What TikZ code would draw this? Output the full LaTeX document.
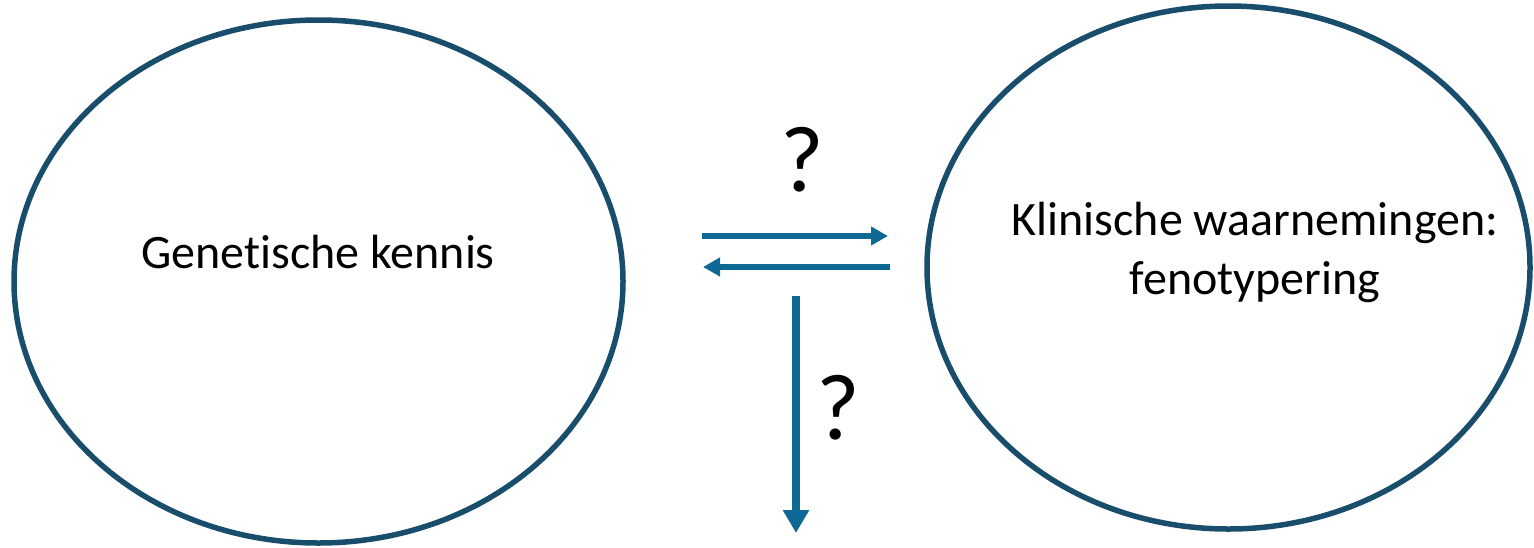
\documentclass[tikz,border=0pt]{standalone}
\usepackage{fontspec}
\setmainfont{Carlito}[Ligatures=NoCommon]
\usepackage{xcolor}
\usetikzlibrary{shapes.geometric,arrows.meta,positioning}

\definecolor{ringblue}{HTML}{184E6C}
\definecolor{arrowblue}{HTML}{0E6A94}

\begin{document}
\begin{tikzpicture}[
    x=1pt, y=-1pt,
    ring/.style={draw=ringblue, line width=5.5pt, ellipse, inner sep=0pt},
    label/.style={font=\fontsize{48}{59}\selectfont, align=center, inner sep=0pt},
    query/.style={font=\fontsize{94}{100}\selectfont, inner sep=0pt},
    flow/.style={draw=arrowblue, line width=6pt, -{Triangle[length=17pt, width=18pt]}},
    drop/.style={draw=arrowblue, line width=8pt, -{Triangle[length=23pt, width=25pt]}},
]
\useasboundingbox (0,0) rectangle (1534,547);

\node[ring, minimum width=609pt, minimum height=523pt] (genetics) at (318.5,281.5) {};
\node[ring, minimum width=603pt, minimum height=523pt] (clinical) at (1228.5,267.5) {};

\node[label] (geneticstext) at (318,252) {Genetische kennis};
\node[label] (clinicaltext) at (1255,252) {Klinische waarnemingen:\\fenotypering};

\coordinate (fwdstart) at (702,236);
\coordinate (fwdend)   at (888,236);
\coordinate (backstart) at (890,267);
\coordinate (backend)   at (703,267);
\coordinate (dropstart) at (796,296);
\coordinate (dropend)   at (796,533);

\draw[flow] (fwdstart) -- (fwdend);
\draw[flow] (backstart) -- (backend);
\draw[drop] (dropstart) -- (dropend);

\node[query] (topquery)  at (802,160) {?};
\node[query] (sidequery) at (838,408) {?};
\end{tikzpicture}
\end{document}
